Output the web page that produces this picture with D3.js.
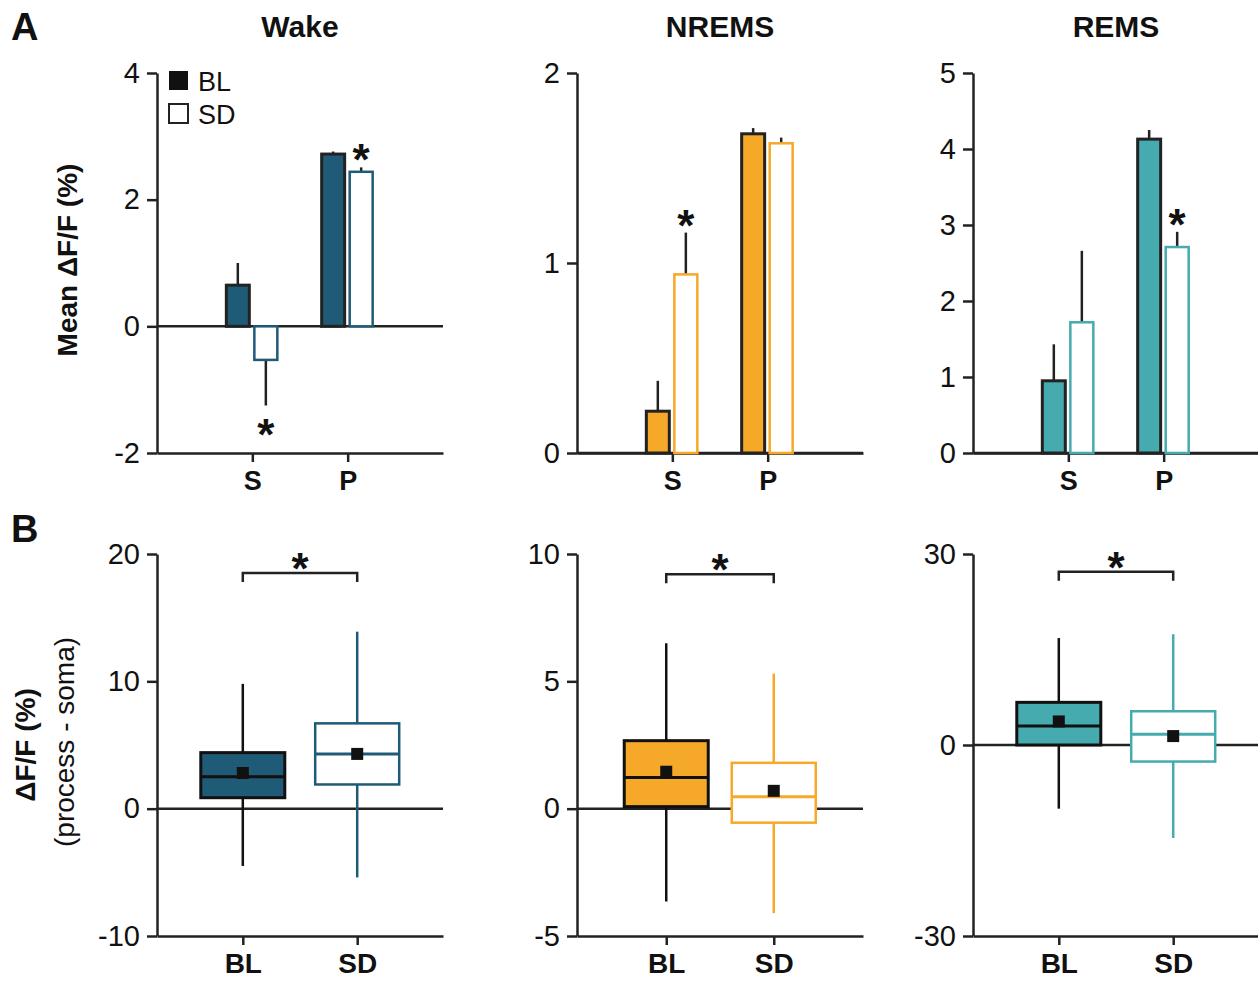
<!DOCTYPE html>
<html>
<head>
<meta charset="utf-8">
<script src="https://cdn.jsdelivr.net/npm/d3@7"></script>
<style>
  body { margin: 0; background: #fff; }
  svg { display: block; font-family: "Liberation Sans", Arial, sans-serif; }
</style>
</head>
<body>
<svg id="fig" width="1258" height="982"></svg>
<script>
// ── Data ─────────────────────────────────
const states = ['Wake', 'NREMS', 'REMS'];
const stateColors = ['#1f5a77', '#f6a829', '#45abae'];
const regions = ['S', 'P'];
const groups = ['BL', 'SD'];

// A: mean dF/F and SEM per state, [S, P]
const meanBL = [[0.65, 2.72], [0.22, 1.68], [0.95, 4.13]];
const semBL  = [[0.35, 0.04], [0.16, 0.03], [0.48, 0.12]];
const meanSD = [[-0.53, 2.44], [0.94, 1.63], [1.72, 2.71]];
const semSD  = [[0.72, 0.07], [0.22, 0.03], [0.94, 0.20]];
const starsA = [[['SD', 'S'], ['SD', 'P']], [['SD', 'S']], [['SD', 'P']]];
const domainA = [[-2, 4], [0, 2], [0, 5]];
const ticksA = [[-2, 0, 2, 4], [0, 1, 2], [0, 1, 2, 3, 4, 5]];

// B: process - soma, [whiskerLow, q1, median, q3, whiskerHigh, mean]
const boxBL = [[-4.5, 0.86, 2.5, 4.4, 9.8, 2.8], [-3.65, 0.08, 1.22, 2.67, 6.5, 1.45], [-10, 0, 3.0, 6.7, 16.8, 3.7]];
const boxSD = [[-5.4, 1.9, 4.3, 6.7, 13.9, 4.3], [-4.1, -0.55, 0.47, 1.8, 5.3, 0.7], [-14.6, -2.6, 1.7, 5.3, 17.4, 1.4]];
const domainB = [[-10, 20], [-5, 10], [-30, 30]];
const ticksB = [[-10, 0, 10, 20], [-5, 0, 5, 10], [-30, 0, 30]];
const bracketB = [18.5, 9.2, 27.2];

// ── Layout ───────────────────────────────
const axisX = [157, 577, 973];
const panelW = 286;
const rangeA = [453, 73];
const rangeB = [936, 554];
const padB = [0.75, 0.83, 0.75];
const ink = '#222';
const plain = d => String(d);   // hyphen minus like the original

const svg = d3.select('#fig');
svg.append('rect').attr('width', 1258).attr('height', 982).attr('fill', '#fff');

function styleAxis(g, bold, size) {
  g.select('.domain').attr('stroke', ink).attr('stroke-width', 2.5);
  g.selectAll('.tick line').attr('stroke', ink).attr('stroke-width', 2.5);
  g.selectAll('.tick text').attr('fill', '#111').attr('font-size', size)
    .attr('font-weight', bold ? 700 : 400).attr('font-family', '"Liberation Sans", Arial, sans-serif');
}

function star(x, yBase) {
  svg.append('text').attr('x', x).attr('y', yBase).attr('text-anchor', 'middle')
    .attr('font-size', 44).attr('font-weight', 700).attr('fill', '#111').text('*');
}

// ── Panel A: bars ────────────────────────
states.forEach((st, i) => {
  const x0 = axisX[i], x1 = x0 + panelW;
  const col = stateColors[i];
  const y = d3.scaleLinear().domain(domainA[i]).range(rangeA);
  const x = d3.scalePoint().domain(regions).range([x0, x1]).padding(1);
  const sub = d3.scaleBand().domain(groups).range([-26, 25]).paddingInner(0.18);

  svg.append('text').attr('x', x0 + 143).attr('y', 37).attr('text-anchor', 'middle')
    .attr('font-size', 30).attr('font-weight', 700).attr('fill', '#111').text(st);

  const ya = svg.append('g').attr('transform', `translate(${x0},0)`)
    .call(d3.axisLeft(y).tickValues(ticksA[i]).tickFormat(plain).tickSize(10).tickPadding(7).tickSizeOuter(0));
  styleAxis(ya, false, 29);

  const xa = svg.append('g').attr('transform', `translate(0,${y(domainA[i][0])})`)
    .call(d3.axisBottom(x).tickSize(9).tickPadding(9).tickSizeOuter(0));
  styleAxis(xa, true, 27);

  svg.append('line').attr('x1', x0).attr('x2', x1).attr('y1', y(0)).attr('y2', y(0))
    .attr('stroke', ink).attr('stroke-width', 2.5);

  const rows = [];
  regions.forEach((r, j) => {
    rows.push({ g: 'BL', r, v: meanBL[i][j], e: semBL[i][j] });
    rows.push({ g: 'SD', r, v: meanSD[i][j], e: semSD[i][j] });
  });

  rows.forEach(d => {
    const cx = x(d.r) + sub(d.g) + sub.bandwidth() / 2;
    const sgn = d.v < 0 ? -1 : 1;
    svg.append('line').attr('x1', cx).attr('x2', cx)
      .attr('y1', y(d.v)).attr('y2', y(d.v + sgn * d.e))
      .attr('stroke', ink).attr('stroke-width', 2.5);
    svg.append('rect')
      .attr('x', x(d.r) + sub(d.g)).attr('width', sub.bandwidth())
      .attr('y', Math.min(y(d.v), y(0))).attr('height', Math.abs(y(d.v) - y(0)))
      .attr('fill', d.g === 'BL' ? col : '#fff')
      .attr('stroke', d.g === 'BL' ? ink : col)
      .attr('stroke-width', d.g === 'BL' ? 3 : 2.5);
  });

  starsA[i].forEach(([g, r]) => {
    const d = rows.find(o => o.g === g && o.r === r);
    const cx = x(r) + sub(g) + sub.bandwidth() / 2;
    if (d.v < 0) star(cx, y(d.v - d.e) + 44);
    else star(cx, y(d.v + d.e) + 8);
  });
});

// legend (Wake panel)
svg.append('rect').attr('x', 169).attr('y', 71).attr('width', 19).attr('height', 19).attr('fill', '#111');
svg.append('rect').attr('x', 169).attr('y', 104).attr('width', 19).attr('height', 19)
  .attr('fill', '#fff').attr('stroke', ink).attr('stroke-width', 2);
svg.append('text').attr('x', 198).attr('y', 91).attr('font-size', 27).attr('fill', '#111').text('BL');
svg.append('text').attr('x', 198).attr('y', 124).attr('font-size', 27).attr('fill', '#111').text('SD');

// ── Panel B: boxes ───────────────────────
states.forEach((st, i) => {
  const x0 = axisX[i], x1 = x0 + panelW;
  const col = stateColors[i];
  const y = d3.scaleLinear().domain(domainB[i]).range(rangeB);
  const x = d3.scalePoint().domain(groups).range([x0, x1]).padding(padB[i]);
  const bw = 84;

  const ya = svg.append('g').attr('transform', `translate(${x0},0)`)
    .call(d3.axisLeft(y).tickValues(ticksB[i]).tickFormat(plain).tickSize(10).tickPadding(7).tickSizeOuter(0));
  styleAxis(ya, false, 29);

  const xa = svg.append('g').attr('transform', `translate(0,${y(domainB[i][0])})`)
    .call(d3.axisBottom(x).tickSize(9).tickPadding(8).tickSizeOuter(0));
  styleAxis(xa, true, 28);

  svg.append('line').attr('x1', x0).attr('x2', x1).attr('y1', y(0)).attr('y2', y(0))
    .attr('stroke', ink).attr('stroke-width', 2.5);

  [['BL', boxBL[i]], ['SD', boxSD[i]]].forEach(([g, b]) => {
    const cx = x(g);
    const isBL = g === 'BL';
    const line = isBL ? '#111' : col;
    svg.append('line').attr('x1', cx).attr('x2', cx).attr('y1', y(b[0])).attr('y2', y(b[4]))
      .attr('stroke', line).attr('stroke-width', 2.5);
    svg.append('rect').attr('x', cx - bw / 2).attr('width', bw)
      .attr('y', y(b[3])).attr('height', y(b[1]) - y(b[3]))
      .attr('fill', isBL ? col : '#fff').attr('stroke', line).attr('stroke-width', isBL ? 3 : 2.5);
    svg.append('line').attr('x1', cx - bw / 2).attr('x2', cx + bw / 2).attr('y1', y(b[2])).attr('y2', y(b[2]))
      .attr('stroke', line).attr('stroke-width', 3);
    svg.append('rect').attr('x', cx - 6).attr('y', y(b[5]) - 6).attr('width', 12).attr('height', 12).attr('fill', '#111');
  });

  const yb = y(bracketB[i]);
  svg.append('path')
    .attr('d', `M${x('BL')},${yb + 9}V${yb}H${x('SD')}V${yb + 9}`)
    .attr('fill', 'none').attr('stroke', ink).attr('stroke-width', 2.5);
  star((x('BL') + x('SD')) / 2, yb + 11);
});

// ── Axis titles and panel letters ────────
svg.append('text').attr('transform', 'translate(77,260) rotate(-90)').attr('text-anchor', 'middle')
  .attr('font-size', 28).attr('font-weight', 700).attr('fill', '#111').text('Mean ΔF/F (%)');
svg.append('text').attr('transform', 'translate(35,745) rotate(-90)').attr('text-anchor', 'middle')
  .attr('font-size', 28).attr('font-weight', 700).attr('fill', '#111').text('ΔF/F (%)');
svg.append('text').attr('transform', 'translate(74,742) rotate(-90)').attr('text-anchor', 'middle')
  .attr('font-size', 28).attr('fill', '#111').text('(process - soma)');

svg.append('text').attr('x', 11).attr('y', 40).attr('font-size', 38).attr('font-weight', 700).attr('fill', '#111').text('A');
svg.append('text').attr('x', 11).attr('y', 542).attr('font-size', 38).attr('font-weight', 700).attr('fill', '#111').text('B');
</script>
</body>
</html>
